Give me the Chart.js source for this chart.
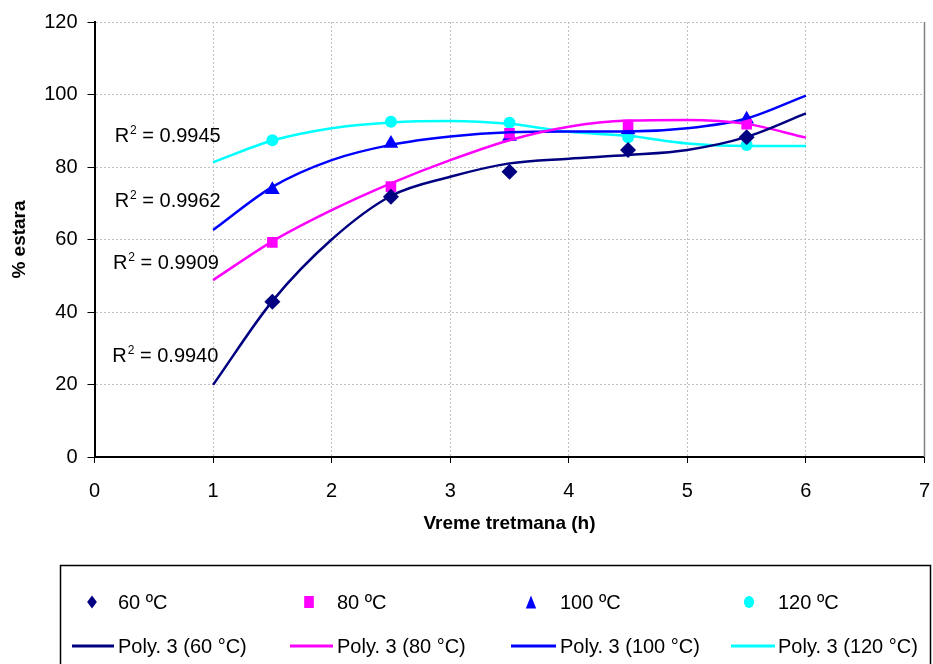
<!DOCTYPE html>
<html>
<head>
<meta charset="utf-8">
<script src="https://cdn.jsdelivr.net/npm/chart.js@4.4.0/dist/chart.umd.min.js"></script>
<style>
  html, body { margin: 0; padding: 0; background: #fff; }
  #chart { display: block; }
</style>
</head>
<body>
<canvas id="chart" width="933" height="664"></canvas>
<script>
// measured samples (h)
var hours = [1.5, 2.5, 3.5, 4.5, 5.5];
var ester60 = [42.8, 71.8, 78.7, 84.7, 88.2];
var ester80 = [59.2, 74.6, 89.3, 91.6, 91.8];
var ester100 = [73.7, 86.5, 88.4, 90.2, 93.2];
var ester120 = [87.4, 92.5, 92.2, 88.2, 86.1];

// poly. 3 trend lines, read every half hour
var trendHours = [1, 1.5, 2, 2.5, 3, 3.5, 4, 4.5, 5, 5.5, 6];
var trend60 = [19.9, 43.0, 60.0, 72.0, 77.3, 81.0, 82.3, 83.3, 84.7, 88.3, 94.8];
var trend80 = [48.8, 59.5, 68.1, 75.5, 81.9, 87.4, 91.1, 92.8, 93.0, 91.9, 88.1];
var trend100 = [62.6, 74.5, 81.9, 86.1, 88.4, 89.6, 89.8, 89.8, 90.7, 93.4, 99.7];
var trend120 = [81.3, 87.3, 90.7, 92.3, 92.7, 91.9, 89.7, 88.6, 86.5, 85.8, 85.8];

var seriesLabels = ['60 ºC', '80 ºC', '100 ºC', '120 ºC'];
var trendLabels = ['Poly. 3 (60 °C)', 'Poly. 3 (80 °C)', 'Poly. 3 (100 °C)', 'Poly. 3 (120 °C)'];
var colors = ['#000080', '#ff00ff', '#0000ff', '#00ffff'];
var markers = ['rectRot', 'rect', 'triangle', 'circle'];

// R² notes, placed in axis units
var r2Values = ['0.9945', '0.9962', '0.9909', '0.9940'];
var r2X = [0.17, 0.17, 0.155, 0.15];
var r2Y = [88.8, 70.9, 53.8, 28.1];

var xMin = 0, xMax = 7, xStep = 1;
var yMin = 0, yMax = 120, yStep = 20;

var FONT = "'Liberation Sans', Arial, sans-serif";

function pts(xs, ys) {
  return xs.map(function (x, i) { return { x: x, y: ys[i] }; });
}

var pointSets = [ester60, ester80, ester100, ester120];
var trendSets = [trend60, trend80, trend100, trend120];
var pointRadius = [8, 7.5, 8.5, 6];

var datasets = [];
trendSets.forEach(function (t, i) {
  datasets.push({
    label: trendLabels[i],
    data: pts(trendHours, t),
    showLine: true,
    borderColor: colors[i],
    borderWidth: 2.5,
    pointRadius: 0,
    cubicInterpolationMode: 'monotone',
    fill: false,
    order: 0
  });
});
pointSets.forEach(function (p, i) {
  datasets.push({
    label: seriesLabels[i],
    data: pts(hours, p),
    showLine: false,
    pointStyle: markers[i],
    pointRadius: pointRadius[i],
    backgroundColor: colors[i],
    borderColor: colors[i],
    borderWidth: 0,
    order: 1
  });
});

// legend marker shapes (a little taller than wide)
function marker(ctx, style, x, y, r) {
  ctx.beginPath();
  if (style === 'rectRot') {
    ctx.moveTo(x, y - r); ctx.lineTo(x + r * 0.75, y); ctx.lineTo(x, y + r); ctx.lineTo(x - r * 0.75, y);
  } else if (style === 'rect') {
    ctx.rect(x - r * 0.8, y - r, 1.6 * r, 2 * r);
  } else if (style === 'triangle') {
    ctx.moveTo(x, y - r); ctx.lineTo(x + r * 0.8, y + r); ctx.lineTo(x - r * 0.8, y + r);
  } else {
    ctx.ellipse(x, y, r * 0.85, r, 0, 0, Math.PI * 2);
  }
  ctx.closePath();
  ctx.fill();
}

var extras = {
  id: 'extras',
  afterDraw: function (chart) {
    var ctx = chart.ctx, a = chart.chartArea;
    var xs = chart.scales.x, ys = chart.scales.y;
    ctx.save();

    // right edge of plot
    ctx.strokeStyle = '#808080';
    ctx.lineWidth = 1.5;
    ctx.beginPath();
    ctx.moveTo(a.right, a.top);
    ctx.lineTo(a.right, a.bottom);
    ctx.stroke();

    // R² annotations
    ctx.fillStyle = '#000';
    ctx.textBaseline = 'alphabetic';
    ctx.textAlign = 'left';
    r2Values.forEach(function (v, i) {
      var px = xs.getPixelForValue(r2X[i]);
      var py = ys.getPixelForValue(r2Y[i]) + 7;
      ctx.font = '20px ' + FONT;
      ctx.fillText('R', px, py);
      var w = ctx.measureText('R').width;
      ctx.font = '12px ' + FONT;
      ctx.fillText('2', px + w + 1, py - 8);
      var w2 = ctx.measureText('2').width;
      ctx.font = '20px ' + FONT;
      ctx.fillText(' = ' + v, px + w + w2 + 1, py);
    });

    // legend box
    ctx.strokeStyle = '#000';
    ctx.lineWidth = 1.5;
    ctx.strokeRect(60.5, 565.5, 870, 130);

    var markX = [92, 309, 531, 749];
    var textX = [118, 337, 560, 778];
    var lineX = [[72, 114], [290, 333], [511, 556], [731, 775]];
    var legR = [6.5, 6, 6.5, 6];
    ctx.font = '20px ' + FONT;
    ctx.textBaseline = 'middle';
    for (var i = 0; i < 4; i++) {
      var pd = chart.data.datasets[4 + i];
      var td = chart.data.datasets[i];
      ctx.fillStyle = colors[i];
      marker(ctx, markers[i], markX[i], 602, legR[i]);
      ctx.fillStyle = '#000';
      ctx.fillText(pd.label, textX[i], 603);

      ctx.strokeStyle = colors[i];
      ctx.lineWidth = 3;
      ctx.beginPath();
      ctx.moveTo(lineX[i][0], 646);
      ctx.lineTo(lineX[i][1], 646);
      ctx.stroke();
      ctx.fillStyle = '#000';
      ctx.fillText(td.label, textX[i], 647);
    }
    ctx.restore();
  }
};

new Chart(document.getElementById('chart').getContext('2d'), {
  type: 'scatter',
  data: { datasets: datasets },
  options: {
    responsive: false,
    animation: false,
    devicePixelRatio: 1,
    layout: { padding: { left: 0, top: 22, right: 8, bottom: 119 } },
    plugins: { legend: { display: false }, tooltip: { enabled: false } },
    scales: {
      x: {
        type: 'linear',
        min: xMin, max: xMax,
        afterFit: function (s) { s.height = 88; s.paddingLeft = 0; s.paddingRight = 0; },
        ticks: { stepSize: xStep, color: '#000', padding: 16, font: { family: FONT, size: 20 } },
        grid: { color: '#c0c0c0', tickColor: '#000', tickLength: 6, tickBorderDash: [] },
        border: { color: '#000', width: 2, dash: [2, 2] },
        title: { display: true, text: 'Vreme tretmana (h)', color: '#000', font: { family: FONT, size: 19, weight: 'bold' }, padding: { top: 0, bottom: 10 } }
      },
      y: {
        min: yMin, max: yMax,
        afterFit: function (s) { s.width = 94.5; },
        ticks: { stepSize: yStep, color: '#000', padding: 10, font: { family: FONT, size: 20 } },
        grid: { color: '#c0c0c0', tickColor: '#000', tickLength: 7, tickBorderDash: [] },
        border: { color: '#000', width: 2, dash: [2, 2] },
        title: { display: true, text: '% estara', color: '#000', font: { family: FONT, size: 19, weight: 'bold' }, padding: { top: 8, bottom: 0 } }
      }
    }
  },
  plugins: [extras]
});
</script>
</body>
</html>
